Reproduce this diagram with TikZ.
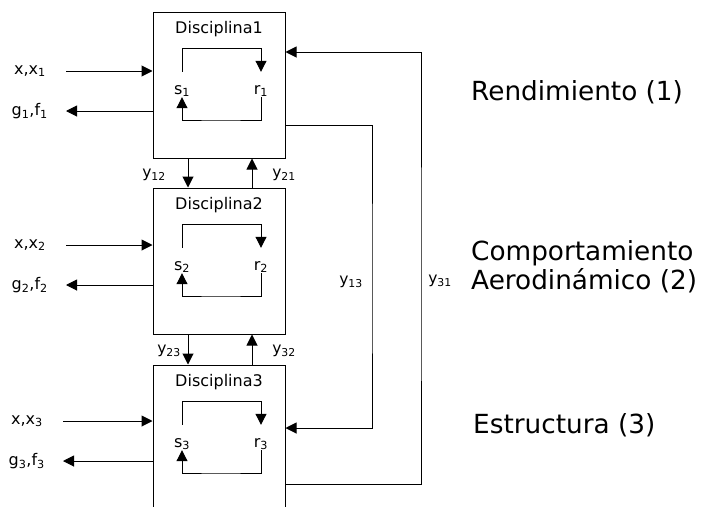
\documentclass[tikz,border=0pt]{standalone}
\usepackage{fontspec}
\setmainfont{DejaVu Sans}
\usetikzlibrary{arrows.meta,positioning}

\begin{document}
\begin{tikzpicture}[x=1pt,y=-1pt,
  disc/.style={draw,line width=1pt,minimum width=132pt,minimum height=146pt,inner sep=0pt},
  lbl/.style={inner sep=0pt,font=\fontsize{16}{18}\selectfont},
  ylbl/.style={inner sep=0pt,font=\fontsize{15.5}{18}\selectfont},
  ttl/.style={inner sep=0pt,font=\fontsize{16}{19}\selectfont},
  sr/.style={inner sep=0pt,anchor=base,text height=22pt,text depth=3pt,
    font=\fontsize{16}{18}\selectfont},
  big/.style={inner sep=0pt,anchor=west,align=left,font=\fontsize{26.3}{29}\selectfont},
  arr/.style={line width=1pt,-{Triangle[length=11pt,width=11pt]}},
]
  \useasboundingbox (0,0) rectangle (703,506);
  \clip (0,0) rectangle (703,506);

  % Disciplina 1
  \node[disc] (d1) at (219,85) {};
  \node[ttl] (t1) at (219,29) {Disciplina1};
  \node[sr] (s1) at (182,94) {s\textsubscript{1}};
  \node[sr] (r1) at (261,94) {r\textsubscript{1}};
  \coordinate (lt1) at (220,48.5);
  \coordinate (lb1) at (220,120);
  \draw[arr] (s1.north) |- (lt1) -| (r1.north);
  \draw[arr] (r1.south) |- (lb1) -| (s1.south);
  \coordinate (i1) at (66,71);
  \coordinate (o1) at (66,111);
  \draw[arr] (i1) -- (i1 -| d1.west);
  \draw[arr] (o1 -| d1.west) -- (o1);
  \node[lbl,left=20pt of i1] (xi1) {x,x\textsubscript{1}};
  \node[lbl,left=18pt of o1] (go1) {g\textsubscript{1},f\textsubscript{1}};

  % Disciplina 2
  \node[disc] (d2) at (219,261) {};
  \node[ttl] (t2) at (219,205) {Disciplina2};
  \node[sr] (s2) at (182,270) {s\textsubscript{2}};
  \node[sr] (r2) at (261,270) {r\textsubscript{2}};
  \coordinate (lt2) at (220,224.5);
  \coordinate (lb2) at (220,296);
  \draw[arr] (s2.north) |- (lt2) -| (r2.north);
  \draw[arr] (r2.south) |- (lb2) -| (s2.south);
  \coordinate (i2) at (66,245);
  \coordinate (o2) at (66,285);
  \draw[arr] (i2) -- (i2 -| d2.west);
  \draw[arr] (o2 -| d2.west) -- (o2);
  \node[lbl,left=20pt of i2] (xi2) {x,x\textsubscript{2}};
  \node[lbl,left=18pt of o2] (go2) {g\textsubscript{2},f\textsubscript{2}};

  % Disciplina 3
  \node[disc] (d3) at (219,438) {};
  \node[ttl] (t3) at (219,382) {Disciplina3};
  \node[sr] (s3) at (182,447) {s\textsubscript{3}};
  \node[sr] (r3) at (261,447) {r\textsubscript{3}};
  \coordinate (lt3) at (220,401.5);
  \coordinate (lb3) at (220,473);
  \draw[arr] (s3.north) |- (lt3) -| (r3.north);
  \draw[arr] (r3.south) |- (lb3) -| (s3.south);
  \coordinate (i3) at (63,421);
  \coordinate (o3) at (63,461);
  \draw[arr] (i3) -- (i3 -| d3.west);
  \draw[arr] (o3 -| d3.west) -- (o3);
  \node[lbl,left=20pt of i3] (xi3) {x,x\textsubscript{3}};
  \node[lbl,left=18pt of o3] (go3) {g\textsubscript{3},f\textsubscript{3}};

  % couplings between neighbours
  \draw[arr] ([xshift=-31pt]d1.south) -- ([xshift=-31pt]d2.north);
  \draw[arr] ([xshift=33pt]d2.north) -- ([xshift=33pt]d1.south);
  \draw[arr] ([xshift=-31pt]d2.south) -- ([xshift=-31pt]d3.north);
  \draw[arr] ([xshift=33pt]d3.north) -- ([xshift=33pt]d2.south);
  \node[ylbl] (y12) at (154,175) {y\textsubscript{12}};
  \node[ylbl] (y21) at (284,175) {y\textsubscript{21}};
  \node[ylbl] (y23) at (169,351) {y\textsubscript{23}};
  \node[ylbl] (y32) at (284,351) {y\textsubscript{32}};

  % couplings between 1 and 3
  \coordinate (c13) at (372,280);
  \coordinate (c31) at (421,280);
  \draw[arr] (d1.east |- 0,125) -| (c13) |- (d3.east |- 0,428);
  \draw[arr] (d3.east |- 0,484) -| (c31) |- (d1.east |- 0,52);
  \node[ylbl] (y13) at (351,282) {y\textsubscript{13}};
  \node[ylbl] (y31) at (440,281) {y\textsubscript{31}};

  % disciplinas
  \node[big] (p1) at (471,92) {Rendimiento (1)};
  \node[big] (p2) at (471,267) {Comportamiento\\Aerodinámico (2)};
  \node[big] (p3) at (473,425) {Estructura (3)};
\end{tikzpicture}
\end{document}
